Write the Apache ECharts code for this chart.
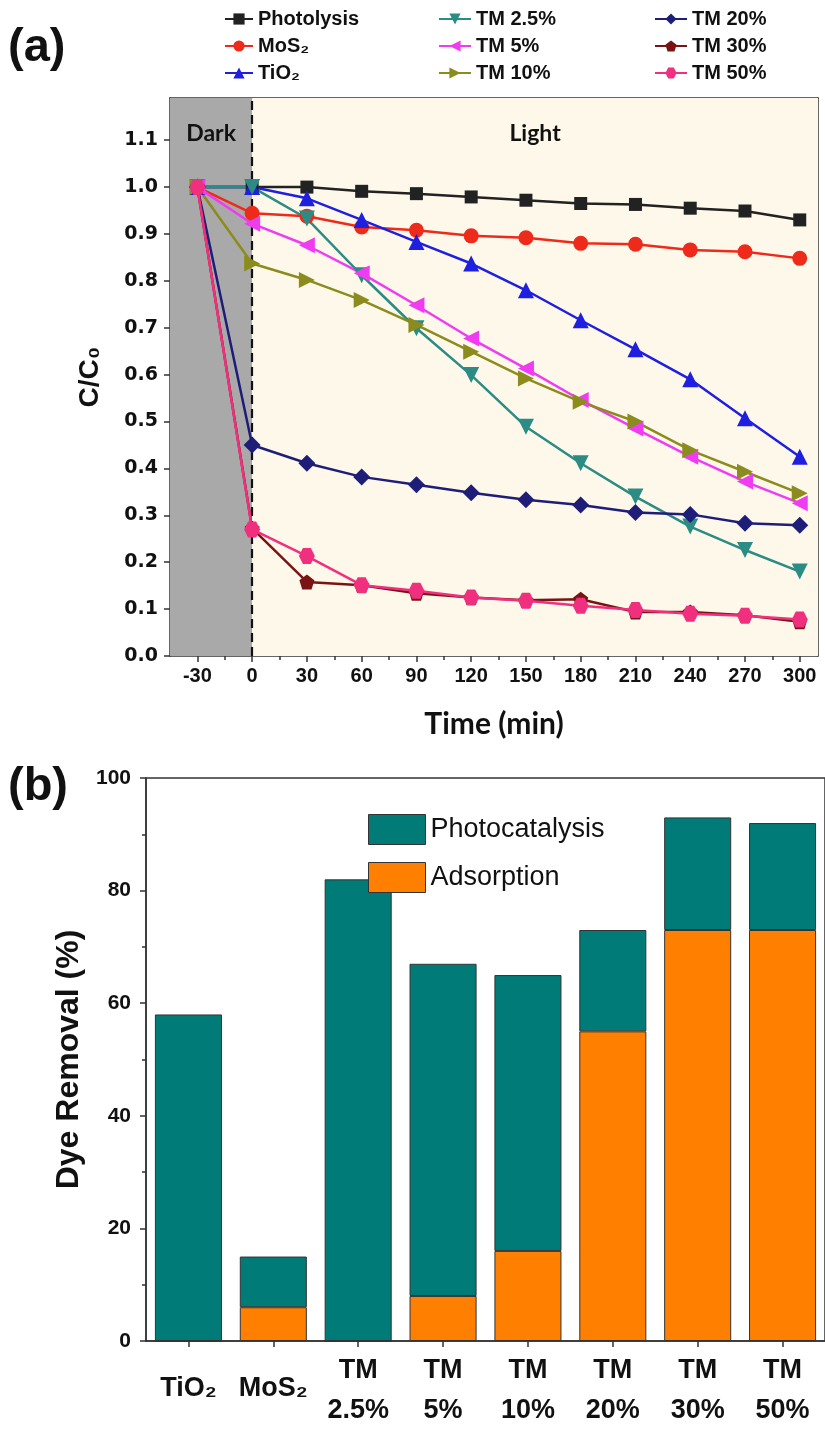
<!DOCTYPE html>
<html>
<head>
<meta charset="utf-8">
<script src="https://cdn.jsdelivr.net/npm/echarts@6/dist/echarts.min.js"></script>
<style>
html,body{margin:0;padding:0;background:#fff;}
#main{width:825px;height:1439px;}
</style>
</head>
<body>
<div id="main"></div>
<script>
// ---------- Panel (a) data ----------
const timeA = [-30, 0, 30, 60, 90, 120, 150, 180, 210, 240, 270, 300];
const photolysis = [1.0, 1.0, 1.0, 0.991, 0.986, 0.979, 0.972, 0.965, 0.963, 0.955, 0.949, 0.930];
const mos2 = [1.0, 0.944, 0.938, 0.915, 0.908, 0.896, 0.892, 0.880, 0.878, 0.866, 0.862, 0.848];
const tio2 = [1.0, 1.0, 0.976, 0.930, 0.883, 0.837, 0.780, 0.716, 0.654, 0.590, 0.507, 0.425];
const tm25 = [1.0, 1.0, 0.933, 0.812, 0.699, 0.599, 0.489, 0.411, 0.340, 0.276, 0.226, 0.180];
const tm5 = [1.0, 0.922, 0.876, 0.816, 0.748, 0.677, 0.613, 0.546, 0.485, 0.425, 0.372, 0.326];
const tm10 = [1.0, 0.837, 0.802, 0.759, 0.706, 0.649, 0.592, 0.542, 0.500, 0.439, 0.393, 0.347];
const tm20 = [1.0, 0.450, 0.411, 0.382, 0.365, 0.348, 0.333, 0.322, 0.306, 0.302, 0.283, 0.279];
const tm30 = [1.0, 0.272, 0.158, 0.151, 0.134, 0.125, 0.119, 0.121, 0.094, 0.094, 0.087, 0.073];
const tm50 = [1.0, 0.270, 0.213, 0.151, 0.139, 0.125, 0.118, 0.107, 0.098, 0.090, 0.086, 0.078];
const seriesNamesA = ['Photolysis', 'MoS₂', 'TiO₂', 'TM 2.5%', 'TM 5%', 'TM 10%', 'TM 20%', 'TM 30%', 'TM 50%'];

// tick labels panel (a)
const xTicksA = [-30, 0, 30, 60, 90, 120, 150, 180, 210, 240, 270, 300];
const xMinorA = [-15, 15, 45, 75, 105, 135, 165, 195, 225, 255, 285];
const yTicksA = [0, 0.1, 0.2, 0.3, 0.4, 0.5, 0.6, 0.7, 0.8, 0.9, 1.0, 1.1];
const yMinorA = [0.05, 0.15, 0.25, 0.35, 0.45, 0.55, 0.65, 0.75, 0.85, 0.95, 1.05, 1.15];

// ---------- Panel (b) data ----------
const categoriesB = ['TiO₂', 'MoS₂', 'TM\n2.5%', 'TM\n5%', 'TM\n10%', 'TM\n20%', 'TM\n30%', 'TM\n50%'];
const adsorption = [0, 6, 0, 8, 16, 55, 73, 73];
const photocatalysis = [58, 9, 82, 59, 49, 18, 20, 19];

const NARROW = "'Liberation Sans Narrow','Arial Narrow','Liberation Sans',Arial,sans-serif";
const ARIAL = "'Liberation Sans',Arial,sans-serif";

const pentagon = 'path://M0,-10 L9.5,-3.1 L5.9,8.1 L-5.9,8.1 L-9.5,-3.1 Z';
const hexagon = 'path://M-5,-8.66 L5,-8.66 L10,0 L5,8.66 L-5,8.66 L-10,0 Z';

const styleA = [
  {color: '#222222', symbol: 'rect', size: 13, rot: 0},
  {color: '#ee2a1b', symbol: 'circle', size: 15, rot: 0},
  {color: '#1f1fe0', symbol: 'triangle', size: 16, rot: 0},
  {color: '#2a8c84', symbol: 'triangle', size: 16, rot: 180},
  {color: '#f03cf0', symbol: 'triangle', size: 16, rot: 90},
  {color: '#8c8c1e', symbol: 'triangle', size: 16, rot: -90},
  {color: '#1e1e78', symbol: 'diamond', size: 17, rot: 0},
  {color: '#7a1414', symbol: pentagon, size: 15, rot: 0},
  {color: '#f0307f', symbol: hexagon, size: 16, rot: 0}
];
const valuesA = [photolysis, mos2, tio2, tm25, tm5, tm10, tm20, tm30, tm50];

const chart = echarts.init(document.getElementById('main'), null, {renderer: 'canvas'});

const lineSeries = valuesA.map((vals, i) => ({
  name: seriesNamesA[i],
  type: 'line',
  xAxisIndex: 0,
  yAxisIndex: 0,
  data: timeA.map((t, k) => [t, vals[k]]),
  symbol: styleA[i].symbol,
  symbolSize: styleA[i].size,
  symbolRotate: styleA[i].rot,
  showAllSymbol: true,
  lineStyle: {color: styleA[i].color, width: 2.5},
  itemStyle: {color: styleA[i].color},
  z: 5,
  animation: false
}));

const bgSeries = {
  name: 'bg',
  type: 'line',
  xAxisIndex: 0,
  yAxisIndex: 0,
  data: [],
  z: 1,
  silent: true,
  animation: false,
  markArea: {
    silent: true,
    data: [
      [{xAxis: -45, itemStyle: {color: '#a9a9a9'},
        label: {show: true, position: 'insideTop', distance: 24, formatter: 'Dark',
          fontFamily: 'Lato', fontWeight: 'bold', fontSize: 23, color: '#111'}},
       {xAxis: 0}],
      [{xAxis: 0, itemStyle: {color: '#fdf8e9'},
        label: {show: true, position: 'insideTop', distance: 24, formatter: 'Light',
          fontFamily: 'Lato', fontWeight: 'bold', fontSize: 23, color: '#111'}},
       {xAxis: 310}]
    ]
  },
  markLine: {
    silent: true,
    symbol: 'none',
    label: {show: false},
    lineStyle: {color: '#111', type: [9, 5], width: 2.2},
    data: [{xAxis: 0}]
  }
};

const legendTextA = {fontFamily: NARROW, fontWeight: 'bold', fontSize: 20, color: '#111'};

const option = {
  animation: false,
  backgroundColor: '#ffffff',
  graphic: [
    {type: 'text', left: 8, top: 25, style: {text: '(a)', font: "bold 47px 'Liberation Sans', Arial", fill: '#111'}},
    {type: 'text', left: 8, top: 764, style: {text: '(b)', font: "bold 47px 'Liberation Sans', Arial", fill: '#111'}}
  ],
  grid: [
    {left: 170, top: 98, width: 648, height: 558},
    {left: 146, top: 778, width: 681, height: 563, show: true, borderColor: '#333', borderWidth: 1.5, backgroundColor: '#fff'}
  ],
  legend: [
    {data: seriesNamesA.slice(0, 3), orient: 'vertical', left: 224, top: 9, padding: 0, itemWidth: 28, itemHeight: 14, itemGap: 7,
      textStyle: legendTextA},
    {data: seriesNamesA.slice(3, 6), orient: 'vertical', left: 438, top: 9, padding: 0, itemWidth: 32, itemHeight: 14, itemGap: 7,
      textStyle: legendTextA},
    {data: seriesNamesA.slice(6, 9), orient: 'vertical', left: 654, top: 9, padding: 0, itemWidth: 32, itemHeight: 14, itemGap: 7,
      textStyle: legendTextA},
    {data: ['Photocatalysis', 'Adsorption'], orient: 'vertical', left: 368, top: 814, padding: 0, icon: 'rect',
      itemWidth: 57, itemHeight: 30, itemGap: 17,
      itemStyle: {borderColor: '#333', borderWidth: 1},
      textStyle: {fontFamily: NARROW, fontSize: 27, color: '#111'}}
  ],
  xAxis: [
    {
      type: 'value', gridIndex: 0, min: -45, max: 310, position: 'bottom',
      axisLine: {show: true, onZero: false, lineStyle: {color: '#333', width: 1.5}},
      axisTick: {show: true, inside: false, length: 6, customValues: xTicksA, lineStyle: {color: '#333', width: 1.5}},
      axisLabel: {show: true, customValues: xTicksA, margin: 10, fontFamily: ARIAL, fontWeight: 'bold', fontSize: 20, color: '#111'},
      splitLine: {show: false},
      name: 'Time (min)', nameLocation: 'middle', nameGap: 53,
      nameTextStyle: {fontFamily: 'Lato', fontWeight: 'bold', fontSize: 30, color: '#111'}
    },
    {
      type: 'value', gridIndex: 0, min: -45, max: 310, position: 'bottom',
      axisLine: {show: false},
      axisTick: {show: true, inside: false, length: 4, customValues: xMinorA, lineStyle: {color: '#333', width: 1.5}},
      axisLabel: {show: false},
      splitLine: {show: false}
    },
    {
      type: 'value', gridIndex: 0, min: -45, max: 310, position: 'top',
      axisLine: {show: true, onZero: false, lineStyle: {color: '#333', width: 1.5}},
      axisTick: {show: false}, axisLabel: {show: false}, splitLine: {show: false}
    },
    {
      type: 'category', gridIndex: 1, data: categoriesB, position: 'bottom',
      axisLine: {show: true, lineStyle: {color: '#333', width: 1.5}},
      axisTick: {show: true, alignWithLabel: true, inside: false, length: 6, lineStyle: {color: '#333', width: 1.5}},
      axisLabel: {
        margin: 10, interval: 0,
        formatter: function (v) {
          if (v.indexOf('\n') < 0) return '{one|' + v + '}';
          const p = v.split('\n');
          return '{two|' + p[0] + '}\n{two|' + p[1] + '}';
        },
        rich: {
          one: {fontFamily: NARROW, fontWeight: 'bold', fontSize: 27, color: '#111', lineHeight: 76},
          two: {fontFamily: NARROW, fontWeight: 'bold', fontSize: 27, color: '#111', lineHeight: 40}
        }
      }
    }
  ],
  yAxis: [
    {
      type: 'value', gridIndex: 0, min: 0, max: 1.19, position: 'left',
      axisLine: {show: true, onZero: false, lineStyle: {color: '#333', width: 1.5}},
      axisTick: {show: true, inside: false, length: 6, customValues: yTicksA, lineStyle: {color: '#333', width: 1.5}},
      axisLabel: {show: true, customValues: yTicksA, margin: 12, formatter: v => v.toFixed(1),
        fontFamily: 'DejaVu Sans', fontWeight: 'bold', fontSize: 19, color: '#111'},
      splitLine: {show: false},
      name: 'C/C₀', nameLocation: 'middle', nameGap: 66,
      nameTextStyle: {fontFamily: ARIAL, fontWeight: 'bold', fontSize: 28, color: '#111'}
    },
    {
      type: 'value', gridIndex: 0, min: 0, max: 1.19, position: 'left',
      axisLine: {show: false},
      axisTick: {show: true, inside: false, length: 4, customValues: yMinorA, lineStyle: {color: '#333', width: 1.5}},
      axisLabel: {show: false}, splitLine: {show: false}
    },
    {
      type: 'value', gridIndex: 0, min: 0, max: 1.19, position: 'right',
      axisLine: {show: true, onZero: false, lineStyle: {color: '#333', width: 1.5}},
      axisTick: {show: false}, axisLabel: {show: false}, splitLine: {show: false}
    },
    {
      type: 'value', gridIndex: 1, min: 0, max: 100, interval: 20, position: 'left',
      axisLine: {show: true, lineStyle: {color: '#333', width: 1.5}},
      axisTick: {show: true, inside: false, length: 6, lineStyle: {color: '#333', width: 1.5}},
      minorTick: {show: true, splitNumber: 2, length: 4, lineStyle: {color: '#333', width: 1.5}},
      axisLabel: {margin: 15, fontFamily: NARROW, fontWeight: 'bold', fontSize: 21, color: '#111'},
      splitLine: {show: false},
      name: 'Dye Removal (%)', nameLocation: 'middle', nameGap: 55,
      nameTextStyle: {fontFamily: ARIAL, fontWeight: 'bold', fontSize: 32, color: '#111'}
    }
  ],
  series: [bgSeries].concat(lineSeries).concat([
    {
      name: 'Adsorption', type: 'bar', xAxisIndex: 3, yAxisIndex: 3, stack: 'b',
      data: adsorption, barCategoryGap: '21%',
      itemStyle: {color: '#ff8000', borderColor: '#333', borderWidth: 1}
    },
    {
      name: 'Photocatalysis', type: 'bar', xAxisIndex: 3, yAxisIndex: 3, stack: 'b',
      data: photocatalysis, barCategoryGap: '21%',
      itemStyle: {color: '#007b78', borderColor: '#333', borderWidth: 1}
    }
  ])
};

chart.setOption(option);
</script>
</body>
</html>
